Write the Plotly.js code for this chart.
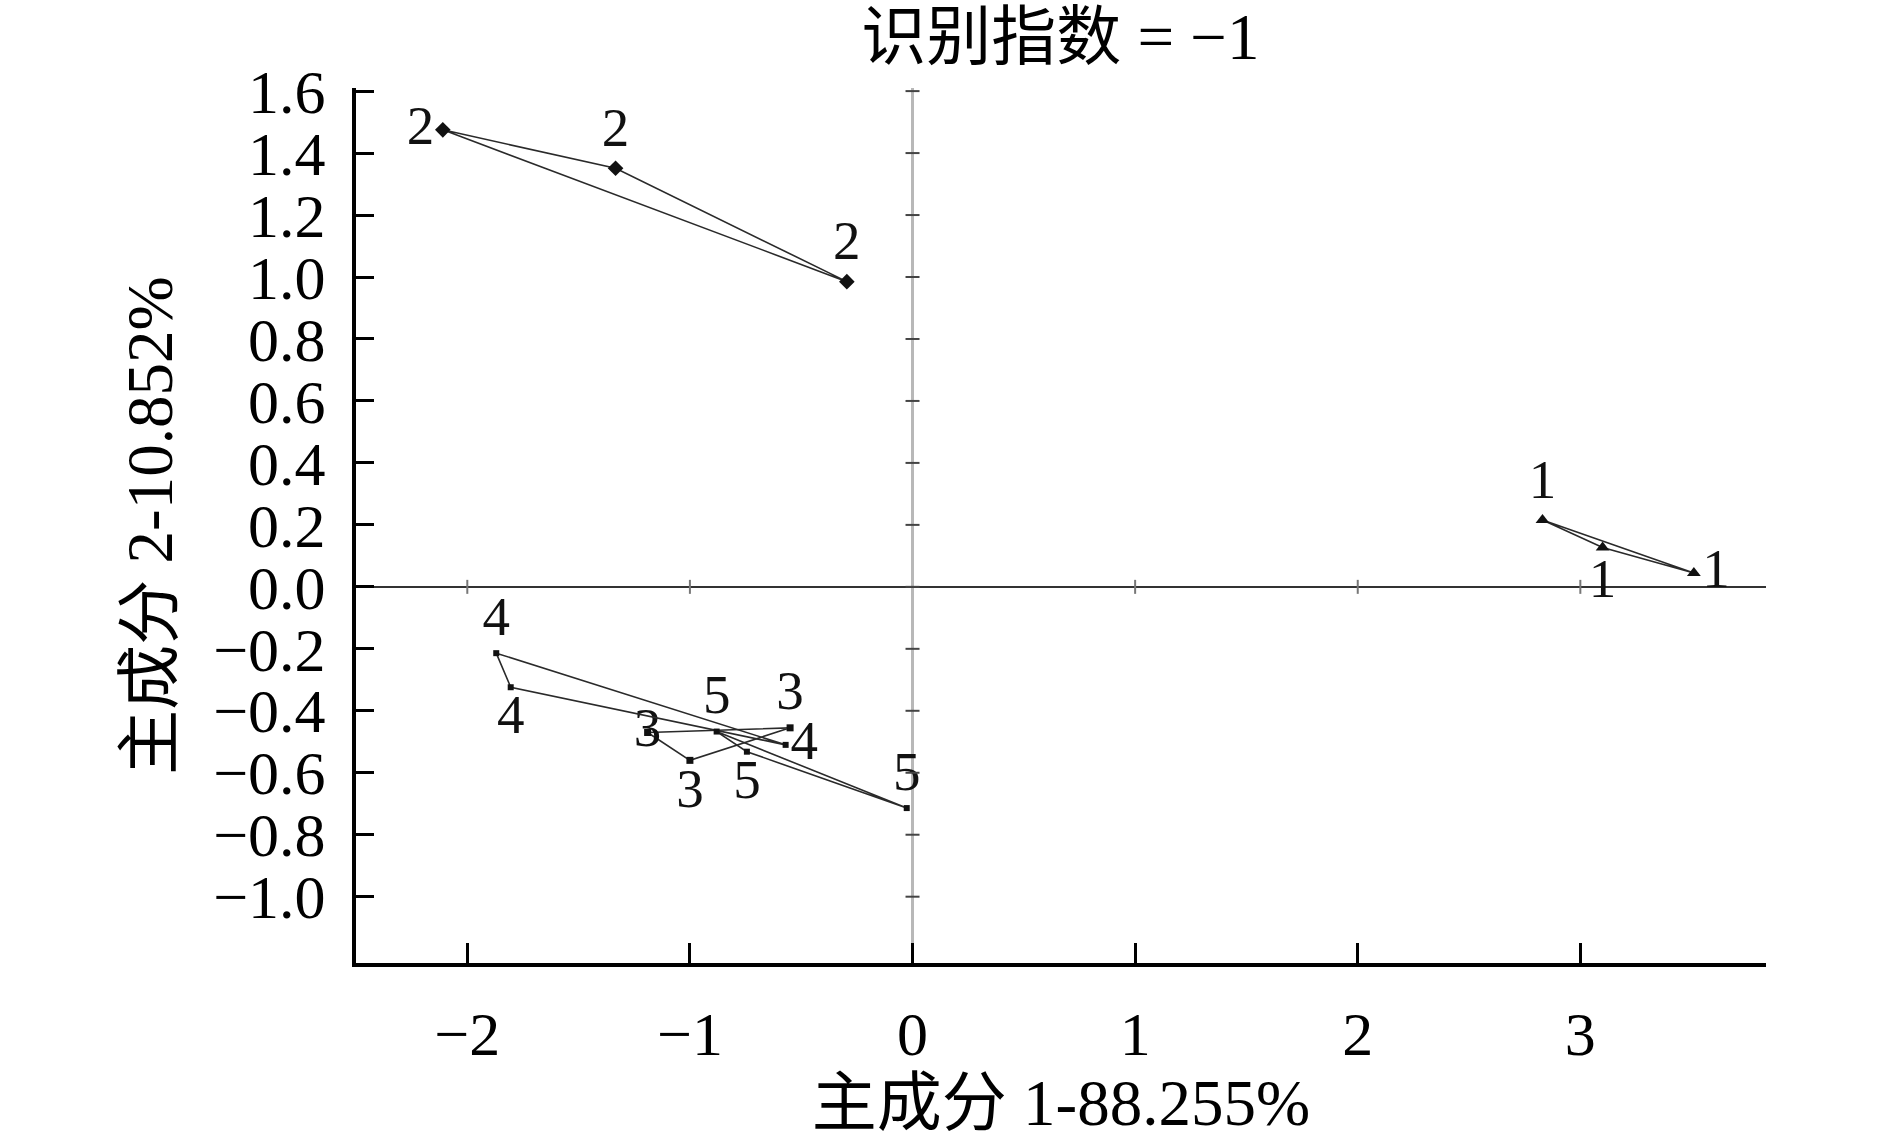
<!DOCTYPE html>
<html>
<head>
<meta charset="utf-8">
<script src="https://cdn.plot.ly/plotly-3.0.1.min.js"></script>
<style>html,body{margin:0;padding:0;background:#fff;}#chart{width:1890px;height:1139px;}</style>
</head>
<body>
<div id="chart"></div>
<script>
// ---- data ----
const groupNames = ["1", "2", "3", "4", "5"];
const g1x = [2.83, 3.10, 3.51];
const g1y = [0.216, 0.127, 0.045];
const g2x = [-2.11, -1.334, -0.295];
const g2y = [1.475, 1.351, 0.985];
const g3x = [-1.19, -1.00, -0.55];
const g3y = [-0.47, -0.56, -0.455];
const g4x = [-1.87, -1.805, -0.57];
const g4y = [-0.214, -0.324, -0.51];
const g5x = [-0.88, -0.744, -0.026];
const g5y = [-0.467, -0.532, -0.714];
const xTickVals = [-2, -1, 0, 1, 2, 3];
const yTickVals = [-1.0, -0.8, -0.6, -0.4, -0.2, 0.0, 0.2, 0.4, 0.6, 0.8, 1.0, 1.2, 1.4, 1.6];
const titleText = "识别指数 = −1";
const xTitle = "主成分 1-88.255%";
const yTitle = "主成分 2-10.852%";

// ---- styling ----
const serif = "Liberation Serif, 'Times New Roman', 'Noto Sans CJK SC', serif";
const groups = [
  {x: g1x, y: g1y, sym: "triangle-up", size: 12, pos: ["top center", "bottom center", "middle right"]},
  {x: g2x, y: g2y, sym: "diamond", size: 12, pos: ["middle left", "top center", "top center"]},
  {x: g3x, y: g3y, sym: "square", size: 7, pos: ["middle center", "bottom center", "top center"]},
  {x: g4x, y: g4y, sym: "square", size: 6, pos: ["top center", "bottom center", "middle right"]},
  {x: g5x, y: g5y, sym: "square", size: 6, pos: ["top center", "bottom center", "top center"]}
];

const traces = [];
groups.forEach((g, i) => {
  traces.push({
    type: "scatter", mode: "lines",
    x: g.x.concat([g.x[0]]), y: g.y.concat([g.y[0]]),
    line: {color: "#2a2a2a", width: 1.6},
    hoverinfo: "skip", showlegend: false
  });
  traces.push({
    type: "scatter", mode: "markers+text",
    x: g.x, y: g.y,
    text: g.x.map(() => groupNames[i]),
    textposition: g.pos,
    cliponaxis: false,
    textfont: {family: serif, size: 55, color: "#111"},
    marker: {symbol: g.sym, size: g.size, color: "#111"},
    showlegend: false
  });
});

// small tick marks drawn on the two zero lines
traces.push({
  type: "scatter", mode: "markers",
  x: yTickVals.map(() => 0), y: yTickVals,
  marker: {symbol: "line-ew", size: 10, line: {color: "#444", width: 2}},
  hoverinfo: "skip", showlegend: false
});
traces.push({
  type: "scatter", mode: "markers",
  x: xTickVals.filter(v => v !== 0), y: xTickVals.filter(v => v !== 0).map(() => 0),
  marker: {symbol: "line-ns", size: 10, line: {color: "#777", width: 2}},
  hoverinfo: "skip", showlegend: false
});

const layout = {
  width: 1890, height: 1139,
  paper_bgcolor: "#fff", plot_bgcolor: "#fff",
  margin: {l: 356, r: 124, t: 88, b: 176},
  font: {family: serif, color: "#000"},
  title: {
    text: titleText,
    font: {family: serif, size: 65, color: "#000"},
    xref: "container", yref: "container",
    x: 0.561, xanchor: "center", y: 0.968, yanchor: "middle"
  },
  xaxis: {
    range: [-2.5, 3.834],
    tickvals: xTickVals,
    ticktext: xTickVals.map(v => v < 0 ? "−" + Math.abs(v) : String(v)),
    ticks: "inside", ticklen: 20, tickwidth: 3, tickcolor: "#000",
    showline: true, linecolor: "#000", linewidth: 4,
    showgrid: false,
    zeroline: true, zerolinecolor: "#b8b8b8", zerolinewidth: 3,
    tickfont: {family: serif, size: 62, color: "#000"},
    ticklabelstandoff: 14,
    title: {text: xTitle, font: {family: serif, size: 65, color: "#000"}, standoff: 18},
    fixedrange: true
  },
  yaxis: {
    range: [-1.214, 1.61],
    tickvals: yTickVals,
    ticktext: yTickVals.map(v => (v < 0 ? "−" : "") + Math.abs(v).toFixed(1)),
    ticks: "inside", ticklen: 18, tickwidth: 3, tickcolor: "#000",
    showline: true, linecolor: "#000", linewidth: 4,
    showgrid: false,
    zeroline: true, zerolinecolor: "#333", zerolinewidth: 2,
    tickfont: {family: serif, size: 62, color: "#000"},
    ticklabelstandoff: 14,
    title: {text: yTitle, font: {family: serif, size: 65, color: "#000"}, standoff: 20},
    fixedrange: true
  }
};

Plotly.newPlot("chart", traces, layout, {displayModeBar: false, staticPlot: true});
</script>
</body>
</html>
